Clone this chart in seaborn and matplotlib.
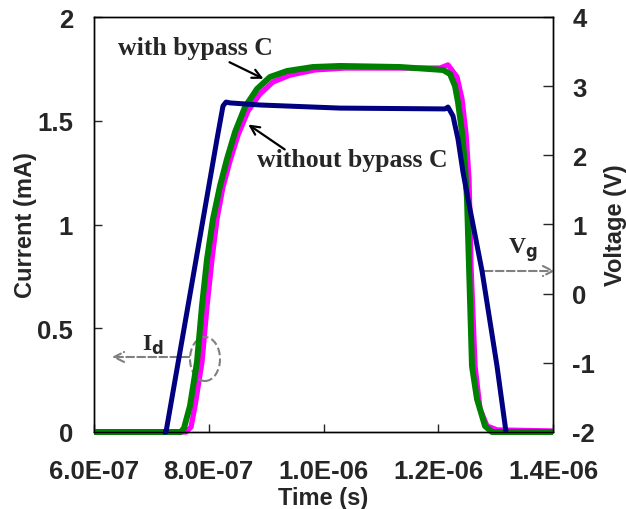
import numpy as np
import pandas as pd
import matplotlib
matplotlib.use("Agg")
import matplotlib.pyplot as plt
import seaborn as sns
from matplotlib.patches import Ellipse, FancyArrowPatch

# ---- data; time in ns ----
# without bypass C : drain current (mA)
t_navy = [720.3, 725.5, 763.8, 814.4, 824.8, 830.1, 837.0, 889.3, 1028.8, 1211.8,
          1217.0, 1225.7, 1234.4, 1243.1, 1251.9, 1276.3, 1302.4, 1318.1]
i_navy = [0.0, 0.0, 0.607, 1.412, 1.571, 1.590, 1.586, 1.576, 1.561, 1.557,
          1.566, 1.523, 1.412, 1.253, 1.123, 0.776, 0.318, 0.0]

# with bypass C : drain current (mA)
t_mag = [600.0, 760.3, 769.1, 776.0, 788.2, 797.0, 805.7, 814.4, 824.8, 837.0,
         851.0, 868.4, 889.3, 912.0, 941.6, 985.2, 1037.5, 1203.1, 1217.0, 1232.7,
         1241.4, 1248.4, 1253.6, 1257.1, 1264.1, 1272.8, 1285.0, 1302.4, 1400.0]
i_mag = [0.0, 0.0, 0.024, 0.125, 0.337, 0.607, 0.834, 1.027, 1.181, 1.306,
         1.431, 1.547, 1.629, 1.687, 1.720, 1.745, 1.754, 1.754, 1.769, 1.711,
         1.605, 1.436, 1.219, 0.800, 0.318, 0.111, 0.029, 0.010, 0.005]

# gate voltage Vg (V)
t_vg = [600.0, 751.6, 756.9, 767.3, 779.5, 788.2, 797.0, 807.4, 819.6, 831.8,
        845.8, 863.2, 884.1, 906.8, 936.4, 981.7, 1028.8, 1133.3, 1208.3, 1220.5,
        1229.2, 1234.4, 1241.4, 1246.6, 1250.1, 1253.6, 1258.8, 1267.5, 1281.5, 1293.7,
        1400.0]
v_vg = [-2.0, -2.0, -1.942, -1.624, -0.988, -0.178, 0.501, 1.080, 1.557, 1.947,
        2.337, 2.699, 2.959, 3.133, 3.219, 3.277, 3.292, 3.277, 3.234, 3.176,
        3.002, 2.771, 2.337, 1.846, 1.369, 0.400, -1.046, -1.523, -1.913, -2.0,
        -2.0]

x_ticks = [6.0e-7, 8.0e-7, 1.0e-6, 1.2e-6, 1.4e-6]
x_ticklabels = ["6.0E-07", "8.0E-07", "1.0E-06", "1.2E-06", "1.4E-06"]
yl_ticks = [0, 0.5, 1, 1.5, 2]
yl_ticklabels = ["0", "0.5", "1", "1.5", "2"]
yr_ticks = [-2, -1, 0, 1, 2, 3, 4]
yr_ticklabels = ["-2", "-1", "0", "1", "2", "3", "4"]

sns.set_style("white")
plt.rcParams['font.family'] = ['Liberation Sans', 'DejaVu Sans']
plt.rcParams['font.weight'] = 'bold'

fig = plt.figure(figsize=(6.26, 5.10), dpi=100)
ax = fig.add_axes([94/626, 1-433/510, (553-94)/626, (433-18)/510])   # current axis (bottom layer)
ax2 = ax.twinx()   # voltage axis (middle layer)
ax3 = ax.twinx()   # current axis, top layer for the navy curve
ax2.set_zorder(ax.get_zorder() + 1)
ax3.set_zorder(ax.get_zorder() + 2)

df_n = pd.DataFrame({"t": np.array(t_navy) * 1e-9, "v": i_navy})
df_m = pd.DataFrame({"t": np.array(t_mag) * 1e-9, "v": i_mag})
df_g = pd.DataFrame({"t": np.array(t_vg) * 1e-9, "v": v_vg})

sns.lineplot(data=df_m, x="t", y="v", ax=ax, color="#FF00FF", lw=3.8, sort=False)
sns.lineplot(data=df_g, x="t", y="v", ax=ax2, color="#008000", lw=4.3, sort=False)
sns.lineplot(data=df_n, x="t", y="v", ax=ax3, color="#000080", lw=3.6, sort=False)

for l in ax.lines + ax2.lines + ax3.lines:
    l.set_clip_on(False)
    l.set_solid_joinstyle('round')
    l.set_solid_capstyle('butt')

ax.set_xlim(6e-7, 1.4e-6)
ax.set_ylim(0, 2)
ax2.set_ylim(-2, 4)
ax3.set_ylim(0, 2)
ax3.axis('off')

ax.set_xticks(x_ticks)
ax.set_xticklabels(x_ticklabels)
ax.set_yticks(yl_ticks)
ax.set_yticklabels(yl_ticklabels)
ax2.set_yticks(yr_ticks)
ax2.set_yticklabels(yr_ticklabels)

for a in (ax, ax2):
    for s in a.spines.values():
        s.set_color("black")
        s.set_linewidth(1.0)
ax.tick_params(axis='x', direction='in', length=6, width=1, pad=19.5, labelsize=18.5, bottom=True)
ax.tick_params(axis='y', direction='in', length=6, width=1, pad=15, labelsize=18.5, left=True)
ax2.tick_params(axis='y', direction='in', length=7, width=1, pad=14, labelsize=18.5, right=True)
for lab in ax.get_xticklabels() + ax.get_yticklabels() + ax2.get_yticklabels():
    lab.set_fontweight('bold')

ax.set_xlabel("Time (s)", fontsize=17, fontweight='bold', labelpad=2)
ax.set_ylabel("Current (mA)", fontsize=17, fontweight='bold', labelpad=0)
ax2.set_ylabel("Voltage (V)", fontsize=17, fontweight='bold', labelpad=6)

serif = ['Liberation Serif', 'DejaVu Serif']
fig.text(118/626, 1-49/510, "with bypass C", family=serif,
         fontsize=18.5, fontweight='bold', va='center', ha='left')
fig.text(257/626, 1-161/510, "without bypass C", family=serif,
         fontsize=18.5, fontweight='bold', va='center', ha='left')

def fpt(x, y):
    return (x/626, 1-y/510)

fig.add_artist(FancyArrowPatch(fpt(227, 62), fpt(266, 81), transform=fig.transFigure,
               arrowstyle='->', color='black', lw=1.6, mutation_scale=16))
fig.add_artist(FancyArrowPatch(fpt(287, 152), fpt(246, 124), transform=fig.transFigure,
               arrowstyle='->', color='black', lw=1.6, mutation_scale=16))

# I_d and V_g markers
fig.add_artist(FancyArrowPatch(fpt(192, 358), fpt(109, 358), transform=fig.transFigure,
               arrowstyle='->', color='#808080', lw=1.5, ls='--', mutation_scale=18))
fig.add_artist(FancyArrowPatch(fpt(482, 272), fpt(558, 272), transform=fig.transFigure,
               arrowstyle='->', color='#808080', lw=1.5, ls='--', mutation_scale=18))
cx, cy = fpt(205, 360)
fig.add_artist(Ellipse((cx, cy), width=30/626, height=44/510, transform=fig.transFigure,
                       fill=False, edgecolor='#808080', lw=1.5, ls='--'))

fig.text(142/626, 1-345/510, r"I$_\mathbf{d}$", family=serif, fontsize=17, fontweight='bold',
         va='center', ha='left')
fig.text(508/626, 1-250/510, r"V$_\mathbf{g}$", family=serif, fontsize=17, fontweight='bold',
         va='center', ha='left')

fig.savefig("out.png", dpi=100)
